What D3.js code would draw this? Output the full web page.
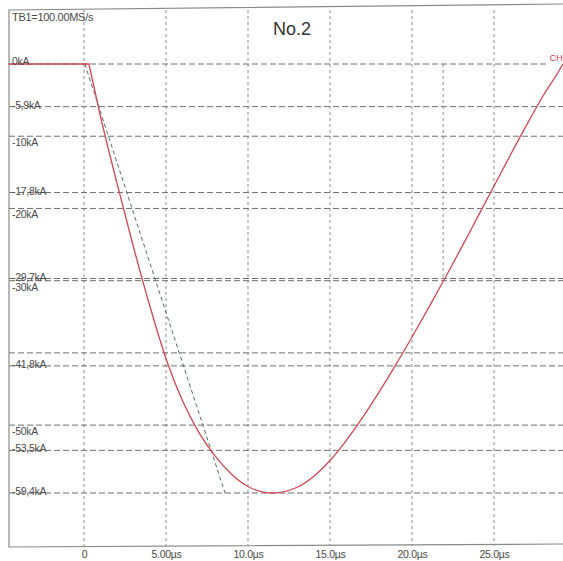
<!DOCTYPE html>
<html>
<head>
<meta charset="utf-8">
<script src="https://cdn.jsdelivr.net/npm/d3@7/dist/d3.min.js"></script>
<style>
  html, body { margin: 0; padding: 0; background: #fff; overflow: hidden; }
  svg { display: block; }
  text { font-family: "Liberation Sans Narrow", "Arial Narrow", "Liberation Sans", sans-serif; }
</style>
</head>
<body>
<script>
// Impulse current record, channel 1 (time in µs, current in kA)
const baselineT = [-4.6, 0.3];
const baselineI = [0, 0];
const timeUs = [0.3, 1, 2, 3, 4, 5, 6, 7, 8, 9, 10, 11, 11.4, 12, 13, 14, 15, 16, 17, 18, 19,
  20, 21, 22, 23, 24, 25, 26, 27, 28, 29, 29.2];
const currentKA = [0, -7.2, -16.4, -25.2, -33.4, -40.8, -46.6, -51.0, -54.3, -56.8, -58.5, -59.3, -59.4,
  -59.3, -58.6, -57.1, -54.9, -52.1, -48.9, -45.4, -41.7, -37.8, -33.8, -29.7, -25.5, -21.2, -16.9,
  -12.6, -8.4, -4.4, -0.8, 0];

// Front-time construction line through the 10 % and 90 % points
const frontLineT = [0.05, 8.6];
const frontLineI = [0, -59.4];

// Time to half value marker
const halfValueT = 21.9;
const halfValueI = -29.7;

// Grid and labels
const xTicks = [0, 5, 10, 15, 20, 25];
const xTickLabels = ["0", "5.00µs", "10.0µs", "15.0µs", "20.0µs", "25.0µs"];
const yGrid = [0, -10, -20, -30, -40, -50];
const yGridLabels = ["0kA", "-10kA", "-20kA", "-30kA", "", "-50kA"];
const yCursors = [-5.9, -17.8, -29.7, -41.8, -53.5, -59.4];
const yCursorLabels = ["-5,9kA", "-17,8kA", "-29,7kA", "-41,8kA", "-53,5kA", "-59,4kA"];

const W = 563, H = 561;
const frameLeft = 9, frameTop = 10, frameBottom = 546;

const svg = d3.select("body").append("svg").attr("width", W).attr("height", H);

const x = d3.scaleLinear().domain([0, 25]).range([84, 494]);
const y = d3.scaleLinear().domain([0, -59.4]).range([64, 493]);

const gridH = "#6f6f6f", gridV = "#8c8c8c", red = "#d24852", ink = "#4a4a4a";

// vertical grid lines
svg.append("g").selectAll("line").data(xTicks).join("line")
  .attr("x1", d => x(d)).attr("x2", d => x(d))
  .attr("y1", frameTop).attr("y2", frameBottom)
  .attr("stroke", gridV).attr("stroke-width", 1).attr("stroke-dasharray", "3,3");

// horizontal grid lines
svg.append("g").selectAll("line").data(yGrid).join("line")
  .attr("x1", frameLeft).attr("x2", d => d === 0 ? x(28.3) : W)
  .attr("y1", d => y(d)).attr("y2", d => y(d))
  .attr("stroke", gridH).attr("stroke-width", 1).attr("stroke-dasharray", "6,3");

// cursor lines
svg.append("g").selectAll("line").data(yCursors).join("line")
  .attr("x1", frameLeft).attr("x2", W)
  .attr("y1", d => y(d)).attr("y2", d => y(d))
  .attr("stroke", gridH).attr("stroke-width", 1).attr("stroke-dasharray", "6,3");

// time-to-half marker
svg.append("line")
  .attr("x1", x(halfValueT)).attr("x2", x(halfValueT))
  .attr("y1", y(0)).attr("y2", y(halfValueI))
  .attr("stroke", gridV).attr("stroke-width", 1).attr("stroke-dasharray", "3,3");

// frame
svg.append("path")
  .attr("d", `M${W},4 L${frameLeft},${frameTop} L${frameLeft},${frameBottom + 1} L${W},${frameBottom - 2}`)
  .attr("fill", "none").attr("stroke", "#8a8a8a").attr("stroke-width", 1.2);

// front-time line
svg.append("line")
  .attr("x1", x(frontLineT[0])).attr("y1", y(frontLineI[0]))
  .attr("x2", x(frontLineT[1])).attr("y2", y(frontLineI[1]))
  .attr("stroke", "#5a6a66").attr("stroke-width", 1).attr("stroke-dasharray", "4,3");

// waveform: flat pre-trigger part, then the impulse
const flatPts = baselineT.map((t, i) => [t, baselineI[i]]);
const pulsePts = timeUs.map((t, i) => [t, currentKA[i]]);
const flatLine = d3.line().x(d => x(d[0])).y(d => y(d[1]));
const pulseLine = d3.line().x(d => x(d[0])).y(d => y(d[1])).curve(d3.curveMonotoneX);
svg.append("path")
  .attr("d", flatLine(flatPts) + pulseLine(pulsePts).replace(/^M/, "L"))
  .attr("fill", "none").attr("stroke", red).attr("stroke-width", 1.3)
  .attr("stroke-linejoin", "round");

// y labels
svg.append("g").selectAll("text").data(yGrid).join("text")
  .attr("x", 12).attr("y", d => y(d) + (d === 0 ? 1 : 10))
  .attr("font-size", 10.5).attr("fill", ink).attr("letter-spacing", -0.3)
  .text((d, i) => yGridLabels[i]);

svg.append("g").selectAll("text").data(yCursors).join("text")
  .attr("x", 12).attr("y", d => y(d) + 2)
  .attr("font-size", 10.5).attr("fill", ink).attr("letter-spacing", -0.3)
  .text((d, i) => yCursorLabels[i]);

// x labels via axis
const xAxis = d3.axisBottom(x).tickValues(xTicks)
  .tickFormat((d, i) => xTickLabels[i]).tickSize(0).tickPadding(0);
const gx = svg.append("g").attr("transform", `translate(0,${frameBottom + 5})`).call(xAxis);
gx.select(".domain").remove();
gx.selectAll("text")
  .attr("font-size", 10.5).attr("fill", ink).attr("letter-spacing", -0.3)
  .attr("font-family", "'Liberation Sans Narrow', 'Arial Narrow', sans-serif")
  .attr("dy", "0.71em");

// header texts
svg.append("text").attr("x", 12).attr("y", 21)
  .attr("font-size", 11).attr("fill", ink).attr("letter-spacing", -0.3)
  .text("TB1=100.00MS/s");

svg.append("text").attr("x", 292).attr("y", 35).attr("text-anchor", "middle")
  .attr("font-family", "'Liberation Sans', Arial, sans-serif")
  .attr("font-size", 18).attr("fill", "#333")
  .text("No.2");

svg.append("text").attr("x", x(28.4)).attr("y", 61)
  .attr("font-size", 9).attr("fill", red)
  .text("CH1");
</script>
</body>
</html>
